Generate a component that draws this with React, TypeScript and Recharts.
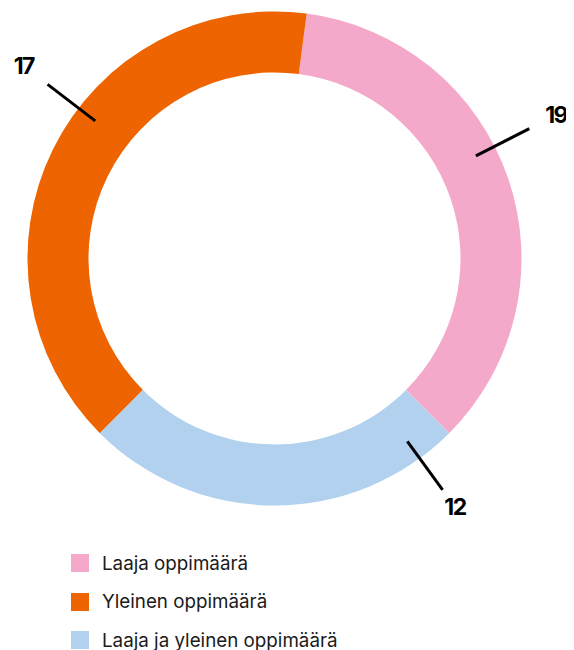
import React from 'react';
import { PieChart, Pie, Cell } from 'recharts';

// legend order
const categories = ['Laaja oppimäärä', 'Yleinen oppimäärä', 'Laaja ja yleinen oppimäärä'];
// printed numbers next to the ring
const printedValues = [19, 17, 12];
// arc sizes as drawn in the ring
const arcValues = [17, 19, 12];
const colors = ['#F4A9CB', '#EE6400', '#B1D1EF'];
// direction (deg) each annotation line points to
const labelAngles = [27, 142.5, -54];

const RAD = Math.PI / 180;

const chartData = categories.map((name, i) => ({
  name,
  value: arcValues[i],
  printed: printedValues[i],
}));

const renderLabel = (props: any) => {
  const { cx, cy, outerRadius, index } = props;
  const a = labelAngles[index] * RAD;
  const cos = Math.cos(a);
  const sin = -Math.sin(a);
  const r1 = outerRadius - 21;
  const r2 = outerRadius + 39;
  const r3 = outerRadius + (index === 2 ? 60 : 69);
  return (
    <g>
      <line
        x1={cx + r1 * cos}
        y1={cy + r1 * sin}
        x2={cx + r2 * cos}
        y2={cy + r2 * sin}
        stroke="#000"
        strokeWidth={3}
      />
      <text
        x={cx + r3 * cos}
        y={cy + r3 * sin}
        textAnchor="middle"
        dominantBaseline="central"
        fill="#000"
        style={{ fontFamily: 'Inter, sans-serif', fontWeight: 700, fontSize: 23, letterSpacing: -1.5 }}
      >
        {chartData[index].printed}
      </text>
    </g>
  );
};

export default function App() {
  return (
    <div style={{ width: 558, fontFamily: 'Inter, sans-serif' }}>
      <PieChart
        width={558}
        height={530}
        margin={{ top: 0, right: 0, bottom: 0, left: 0 }}
        style={{ overflow: 'visible' }}
      >
        <Pie
          data={chartData}
          dataKey="value"
          nameKey="name"
          cx={266.5}
          cy={250.5}
          innerRadius={186}
          outerRadius={247}
          startAngle={-45}
          endAngle={315}
          stroke="none"
          label={renderLabel}
          labelLine={false}
          isAnimationActive={false}
        >
          {chartData.map((d, i) => (
            <Cell key={d.name} fill={colors[i]} />
          ))}
        </Pie>
      </PieChart>
      <div style={{ marginTop: 6, paddingLeft: 63 }}>
        {categories.map((c, i) => (
          <div key={c} style={{ height: 38.5, display: 'flex', alignItems: 'center' }}>
            <span style={{ width: 18, height: 18, background: colors[i], display: 'inline-block' }} />
            <span style={{ marginLeft: 13, fontSize: 18.8, color: '#1a1a1a' }}>{c}</span>
          </div>
        ))}
      </div>
    </div>
  );
}
